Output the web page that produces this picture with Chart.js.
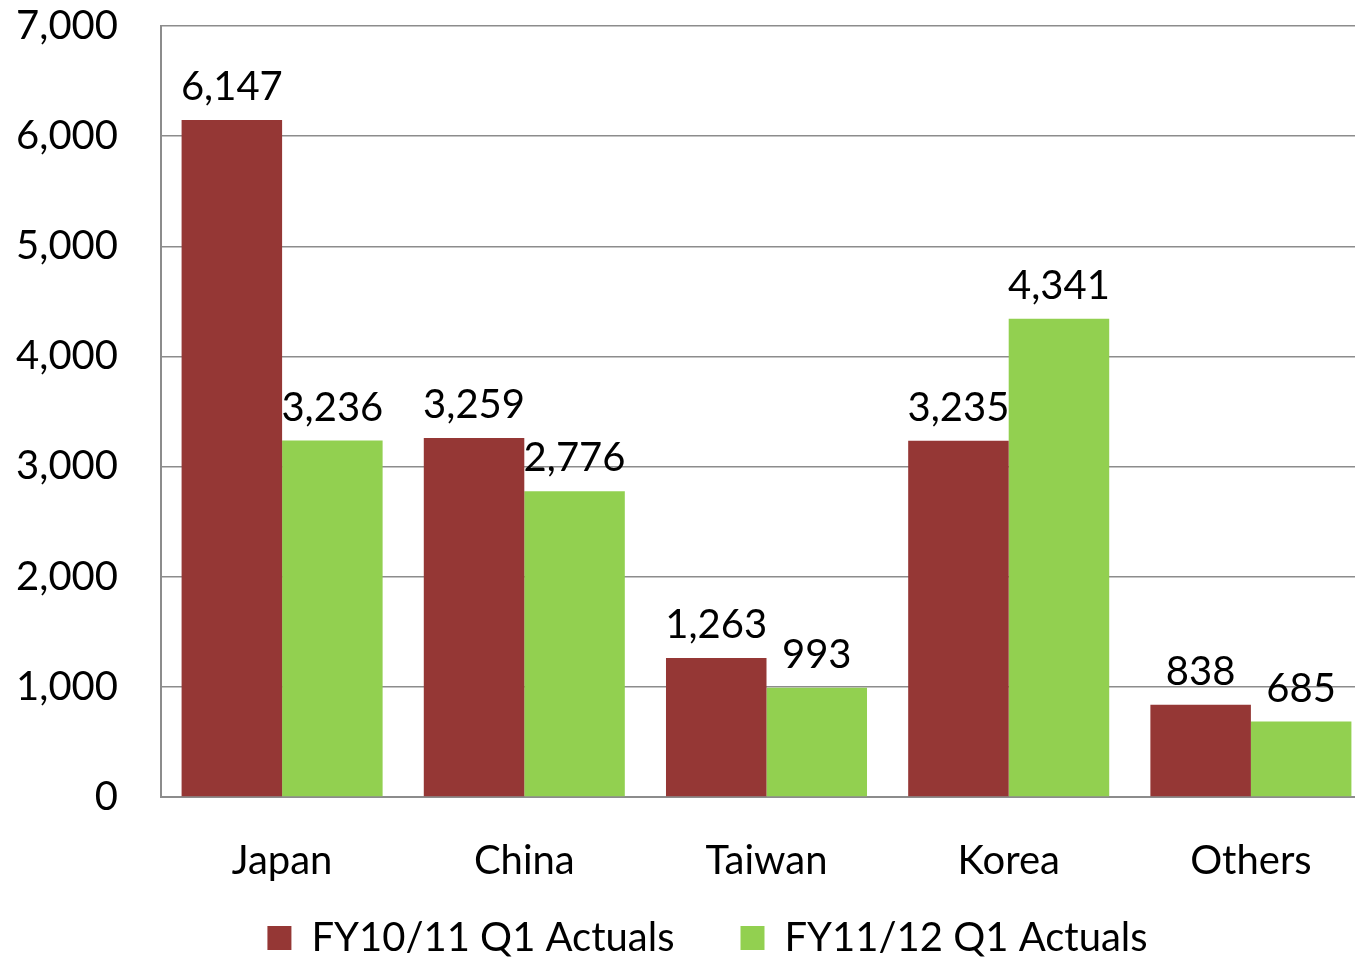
<!DOCTYPE html>
<html>
<head>
<meta charset="utf-8">
<script src="https://cdn.jsdelivr.net/npm/chart.js@4/dist/chart.umd.min.js"></script>
<style>
html,body{margin:0;padding:0;background:#fff;overflow:hidden;}
#wrap{width:1355px;height:957px;overflow:hidden;}
</style>
</head>
<body>
<div id="wrap"><canvas id="c" width="1375" height="1013"></canvas></div>
<script>
const categories = ["Japan", "China", "Taiwan", "Korea", "Others"];
const seriesNames = ["FY10/11 Q1 Actuals", "FY11/12 Q1 Actuals"];
const fy1011 = [6147, 3259, 1263, 3235, 838];
const fy1112 = [3236, 2776, 993, 4341, 685];
const yTicks = [0, 1000, 2000, 3000, 4000, 5000, 6000, 7000];

const FONT = "Lato, 'Open Sans', sans-serif";
const fmt = v => v.toLocaleString('en-US');

const labelPlugin = {
  id: 'barLabels',
  afterLayout(chart) {
    const lg = chart.legend;
    if (lg) {
      lg.left += 20; lg.right += 20;
      lg.top -= 45; lg.bottom -= 45;
    }
  },
  afterDatasetsDraw(chart) {
    const ctx = chart.ctx;
    ctx.save();
    ctx.font = "40px " + FONT;
    ctx.fillStyle = "#000";
    ctx.textAlign = "center";
    ctx.textBaseline = "alphabetic";
    chart.data.datasets.forEach((ds, i) => {
      const meta = chart.getDatasetMeta(i);
      meta.data.forEach((el, j) => {
        ctx.fillText(fmt(ds.data[j]), el.x, el.y - 20);
      });
    });
    ctx.restore();
  }
};

new Chart(document.getElementById('c'), {
  type: 'bar',
  data: {
    labels: categories,
    datasets: [
      { label: seriesNames[0], data: fy1011, backgroundColor: '#953735', borderWidth: 0 },
      { label: seriesNames[1], data: fy1112, backgroundColor: '#92D050', borderWidth: 0 }
    ]
  },
  options: {
    responsive: false,
    animation: false,
    devicePixelRatio: 1,
    layout: { padding: { top: 26, right: 3, left: 3, bottom: 0 } },
    datasets: { bar: { categoryPercentage: 0.83, barPercentage: 1.0 } },
    plugins: {
      tooltip: { enabled: false },
      legend: {
        position: 'bottom',
        labels: {
          font: { family: FONT, size: 40 },
          color: '#000',
          boxWidth: 24,
          boxHeight: 24,
          padding: 66
        }
      }
    },
    scales: {
      x: {
        afterFit(scale) { scale.height = 100; scale.paddingLeft = 0; scale.paddingRight = 0; },
        grid: { display: false, drawTicks: false },
        border: { display: true, color: '#8c8c8c', width: 2 },
        ticks: { font: { family: FONT, size: 40 }, color: '#000', padding: 40 }
      },
      y: {
        min: 0,
        max: 7000,
        afterBuildTicks(scale) { scale.ticks = yTicks.map(v => ({ value: v })); },
        afterFit(scale) { scale.width = 158; scale.paddingTop = 0; scale.paddingBottom = 0; },
        grid: { color: '#8c8c8c', lineWidth: 1.5, drawTicks: false },
        border: { display: true, color: '#8c8c8c', width: 2 },
        ticks: { font: { family: FONT, size: 40 }, color: '#000', padding: 43, callback: v => fmt(v) }
      }
    }
  },
  plugins: [labelPlugin]
});
</script>
</body>
</html>
